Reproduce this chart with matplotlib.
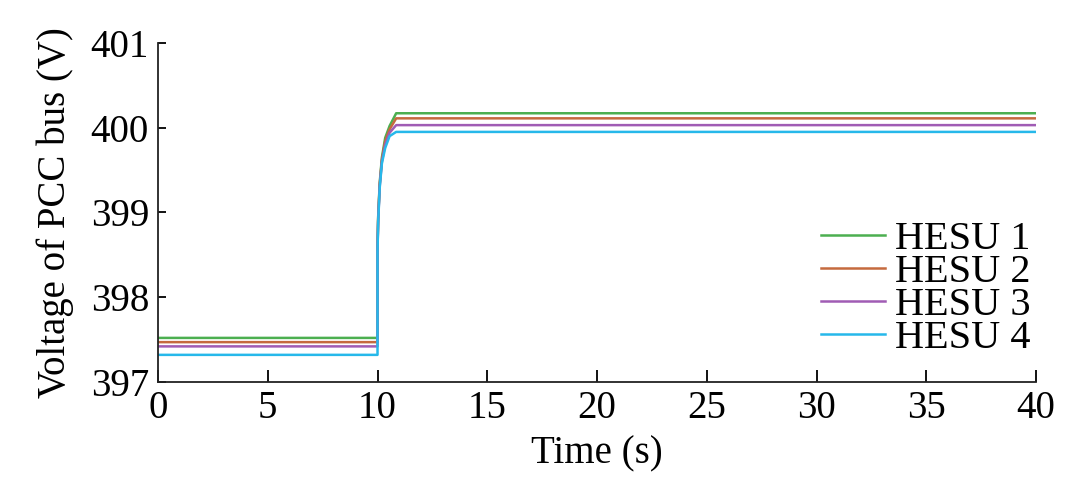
import numpy as np
import matplotlib.pyplot as plt

plt.rcParams['font.family'] = ['Liberation Serif', 'DejaVu Serif']
plt.rcParams['mathtext.fontset'] = 'stix'

# time samples (s) shared by all four units
t = [0, 10.0, 10.0, 10.03, 10.1, 10.2, 10.35, 10.55, 10.85, 40]

# PCC bus voltage seen by each HESU (V)
hesu1 = [397.52, 397.52, 398.60, 398.95, 399.35, 399.65, 399.88, 400.02, 400.17, 400.17]
hesu2 = [397.47, 397.47, 398.58, 398.93, 399.33, 399.62, 399.84, 399.98, 400.11, 400.11]
hesu3 = [397.42, 397.42, 398.56, 398.91, 399.31, 399.60, 399.80, 399.94, 400.03, 400.03]
hesu4 = [397.32, 397.32, 398.54, 398.89, 399.29, 399.58, 399.76, 399.90, 399.95, 399.95]

labels = ['HESU 1', 'HESU 2', 'HESU 3', 'HESU 4']
colors = ['#4caf50', '#c56a3e', '#a05cb4', '#26b8ea']

fig = plt.figure(figsize=(10.8, 4.82), dpi=100)
ax = fig.add_axes([0.1463, 0.2075, 0.8130, 0.7035])

for y, lab, c in zip([hesu1, hesu2, hesu3, hesu4], labels, colors):
    ax.plot(t, y, color=c, lw=1.8, label=lab)

ax.set_xlim(0, 40)
ax.set_ylim(397, 401)
ax.set_xticks(np.arange(0, 41, 5))
ax.set_yticks([397, 398, 399, 400, 401])

ax.spines['top'].set_visible(False)
ax.spines['right'].set_visible(False)
for s in ['left', 'bottom']:
    ax.spines[s].set_linewidth(1.3)
    ax.spines[s].set_color('#222222')

ax.tick_params(axis='x', direction='in', length=9, width=1.3, pad=6, labelsize=28)
ax.tick_params(axis='y', direction='in', length=6, width=1.3, pad=6.5, labelsize=28)

ax.set_xlabel('Time (s)', fontsize=28, labelpad=6)
ax.set_ylabel('Voltage of PCC bus (V)', fontsize=28, labelpad=12)

leg = ax.legend(loc='lower right', bbox_to_anchor=(1.026, -0.01), frameon=False,
                fontsize=29, handlelength=1.6, handletextpad=0.25,
                labelspacing=-0.1, borderpad=0.2)

fig.savefig('out.png', dpi=100)
